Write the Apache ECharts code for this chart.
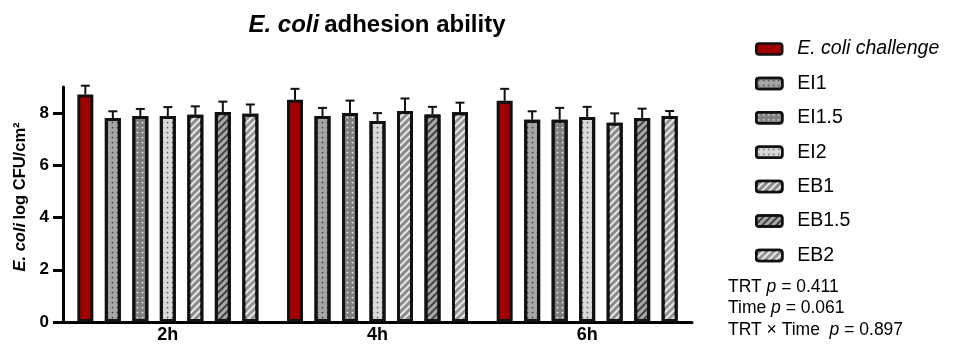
<!DOCTYPE html>
<html><head><meta charset="utf-8">
<script src="https://cdn.jsdelivr.net/npm/echarts@6/dist/echarts.min.js"></script>
<style>html,body{margin:0;padding:0;background:#fff}#c{width:970px;height:358px}</style>
</head><body><div id="c"></div>
<script>
const categories = ['2h', '4h', '6h'];
const seriesNames = ['E. coli challenge', 'EI1', 'EI1.5', 'EI2', 'EB1', 'EB1.5', 'EB2'];
const ecoli   = [8.71, 8.51, 8.47];
const ei1     = [7.81, 7.89, 7.75];
const ei15    = [7.89, 8.00, 7.75];
const ei2     = [7.89, 7.70, 7.85];
const eb1     = [7.94, 8.08, 7.63];
const eb15    = [8.04, 7.95, 7.81];
const eb2     = [7.98, 8.03, 7.89];
const ecoliErr = [0.34, 0.42, 0.46];
const ei1Err   = [0.26, 0.31, 0.32];
const ei15Err  = [0.27, 0.48, 0.45];
const ei2Err   = [0.34, 0.30, 0.39];
const eb1Err   = [0.32, 0.48, 0.36];
const eb15Err  = [0.40, 0.29, 0.36];
const eb2Err   = [0.35, 0.37, 0.19];
const yTicks = [0, 2, 4, 6, 8];
const pLines = [['TRT ', ' = 0.411'], ['Time ', ' = 0.061'], ['TRT \u00d7 Time  ', ' = 0.897']];

const means = [ecoli, ei1, ei15, ei2, eb1, eb15, eb2];
const errs = [ecoliErr, ei1Err, ei15Err, ei2Err, eb1Err, eb15Err, eb2Err];

const dotDecal = (c) => ({symbol: 'circle', symbolSize: 0.35, dashArrayX: [5, 0], dashArrayY: [5, 0], color: c, rotation: 0});
const stripeDecal = (c) => ({symbol: 'rect', symbolSize: 1, dashArrayX: [1, 0], dashArrayY: [2, 2.5], rotation: -Math.PI / 4, color: c});
const styles = [
  {color: '#a00000'},
  {color: '#a6a6a6', decal: dotDecal('rgba(40,40,40,0.8)')},
  {color: '#7f7f7f', decal: dotDecal('rgba(255,255,255,0.85)')},
  {color: '#dadada', decal: dotDecal('rgba(60,60,60,0.8)')},
  {color: '#8a8a8a', decal: stripeDecal('rgba(255,255,255,0.8)')},
  {color: '#a8a8a8', decal: stripeDecal('rgba(30,30,30,0.75)')},
  {color: '#969696', decal: stripeDecal('rgba(255,255,255,0.8)')}
];

const BW = 16, GAP = 11.5, PITCH = BW + GAP;
const series = seriesNames.map((n, k) => ({
  name: n, type: 'bar', data: means[k], barWidth: BW, barGap: (GAP / BW * 100) + '%',
  itemStyle: Object.assign({borderColor: '#111', borderWidth: 3}, styles[k]),
  z: 2
}));

const errData = [];
means.forEach((arr, k) => arr.forEach((v, i) => errData.push([i, k, v, errs[k][i]])));
series.push({
  type: 'custom', z: 5, silent: true,
  encode: {x: 0, y: 2},
  data: errData,
  renderItem: function (params, api) {
    const ci = api.value(0), k = api.value(1), m = api.value(2), e = api.value(3);
    const p0 = api.coord([ci, m]);
    const p1 = api.coord([ci, m + e]);
    const x = p0[0] + (k - 3) * PITCH;
    const st = {stroke: '#111', lineWidth: 2};
    return {type: 'group', children: [
      {type: 'line', shape: {x1: x, y1: p0[1], x2: x, y2: p1[1]}, style: st},
      {type: 'line', shape: {x1: x - 4.5, y1: p1[1], x2: x + 4.5, y2: p1[1]}, style: st}
    ]};
  }
});

const FF = '"Liberation Sans", Arial, sans-serif';
const chart = echarts.init(document.getElementById('c'), null, {renderer: 'canvas'});
chart.setOption({
  animation: false,
  textStyle: {fontFamily: FF},
  title: {
    text: '{i|E. coli} {b|adhesion ability}', left: 372, top: 8, textAlign: 'center',
    textStyle: {rich: {
      i: {fontSize: 24, fontWeight: 'bold', fontStyle: 'italic', fontFamily: FF, color: '#000'},
      b: {fontSize: 24, fontWeight: 'bold', fontFamily: FF, color: '#000'}
    }}
  },
  grid: {left: 63, right: 278, top: 87, bottom: 36},
  legend: {
    orient: 'vertical', left: 750, top: 34, itemWidth: 26, itemHeight: 11, itemGap: 14.4,
    data: seriesNames,
    itemStyle: {borderWidth: 2.5, borderColor: '#111'},
    formatter: function (n) { return n === 'E. coli challenge' ? '{i|' + n + '}' : '{n|' + n + '}'; },
    textStyle: {rich: {
      i: {fontSize: 19.5, fontStyle: 'italic', fontFamily: FF, color: '#000', padding: [0, 0, 0, 10]},
      n: {fontSize: 19.5, fontFamily: FF, color: '#000', padding: [0, 0, 0, 10]}
    }}
  },
  xAxis: {
    type: 'category', data: categories,
    axisLine: {lineStyle: {color: '#000', width: 3}},
    axisTick: {alignWithLabel: true, length: 10, lineStyle: {width: 3, color: '#000'}},
    axisLabel: {fontSize: 18, fontWeight: 'bold', color: '#000', margin: 4, fontFamily: FF}
  },
  yAxis: {
    type: 'value', min: 0, max: 9, interval: 2,
    axisLine: {show: true, lineStyle: {color: '#000', width: 3}},
    axisTick: {show: true, length: 10, customValues: yTicks, lineStyle: {width: 3, color: '#000'}},
    axisLabel: {fontSize: 17, fontWeight: 'bold', color: '#000', margin: 14, fontFamily: FF, customValues: yTicks},
    splitLine: {show: false}
  },
  graphic: [
    {type: 'text', x: 20, y: 197, rotation: Math.PI / 2,
      style: {text: '{i|E. coli} {b|log CFU/cm\u00b2}', align: 'center', verticalAlign: 'middle',
        rich: {i: {fontSize: 16.5, fontWeight: 'bold', fontStyle: 'italic', fontFamily: FF, fill: '#000'},
               b: {fontSize: 16.5, fontWeight: 'bold', fontFamily: FF, fill: '#000'}}}}
  ].concat(pLines.map((l, i) => ({
    type: 'text', left: 728, top: 278 + i * 21.5,
    style: {text: '{n|' + l[0] + '}{p|p}{n|' + l[1] + '}',
      rich: {n: {fontSize: 17.5, fontFamily: FF, fill: '#000'}, p: {fontSize: 17.5, fontStyle: 'italic', fontFamily: FF, fill: '#000'}}}
  }))),
  series: series
});
</script></body></html>
